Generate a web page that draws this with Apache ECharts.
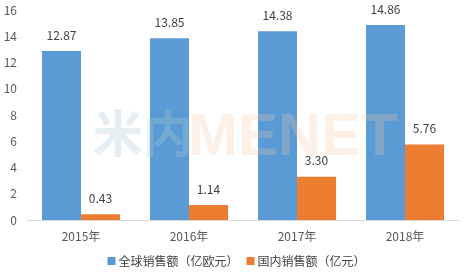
<!DOCTYPE html>
<html><head><meta charset="utf-8">
<script src="https://cdn.jsdelivr.net/npm/echarts@6/dist/echarts.min.js"></script>
<style>html,body{margin:0;padding:0;background:#fff}#c{width:473px;height:276px}</style>
</head><body><div id="c"></div>
<script>
const categories = ['2015年', '2016年', '2017年', '2018年'];
const globalSales = [12.87, 13.85, 14.38, 14.86];
const domesticSales = [0.43, 1.14, 3.30, 5.76];
const seriesNames = ['全球销售额（亿欧元）', '国内销售额（亿元）'];
const yTicks = { min: 0, max: 16, interval: 2 };

const FONT = '"Noto Sans CJK SC", "Liberation Sans", sans-serif';
const chart = echarts.init(document.getElementById('c'));
chart.setOption({
  animation: false,
  textStyle: { fontFamily: FONT },
  grid: { left: 27, right: 14, top: 10, bottom: 56 },
  legend: {
    bottom: 4, left: 'center', itemWidth: 8, itemHeight: 8, itemGap: 8,
    icon: 'rect',
    textStyle: { fontSize: 12, color: '#404040', fontFamily: FONT, padding: [0, 0, 0, -2] },
    data: seriesNames
  },
  xAxis: {
    type: 'category', data: categories,
    axisLine: { lineStyle: { color: '#d9d9d9' } },
    axisTick: { show: false },
    axisLabel: { color: '#595959', fontSize: 12, margin: 10, fontFamily: FONT }
  },
  yAxis: {
    type: 'value', min: yTicks.min, max: yTicks.max, interval: yTicks.interval,
    axisLine: { show: false }, axisTick: { show: false },
    splitLine: { show: false },
    axisLabel: { color: '#595959', fontSize: 12, margin: 10, fontFamily: FONT }
  },
  series: [
    { name: seriesNames[0], type: 'bar', data: globalSales, barWidth: 39, barGap: '0%',
      itemStyle: { color: '#5b9bd5' },
      label: { show: true, position: 'top', distance: 10, color: '#404040', fontSize: 12,
        formatter: p => p.value.toFixed(2) } },
    { name: seriesNames[1], type: 'bar', data: domesticSales, barWidth: 39,
      itemStyle: { color: '#ed7d31' },
      label: { show: true, position: 'top', distance: 10, color: '#404040', fontSize: 12,
        formatter: p => p.value.toFixed(2) } }
  ],
  graphic: [
    { type: 'text', left: 93, top: 108, z: 100, silent: true,
      style: { text: '米内', fontSize: 50, fontWeight: 'bold', fill: 'rgba(170,200,212,0.3)', fontFamily: FONT } },
    { type: 'text', left: 188, top: 108, z: 100, silent: true,
      style: { text: 'MENET', fontSize: 60, fontWeight: 'bold', fill: 'rgba(248,200,160,0.25)', fontFamily: '"Liberation Sans", sans-serif' } }
  ]
});
</script></body></html>
